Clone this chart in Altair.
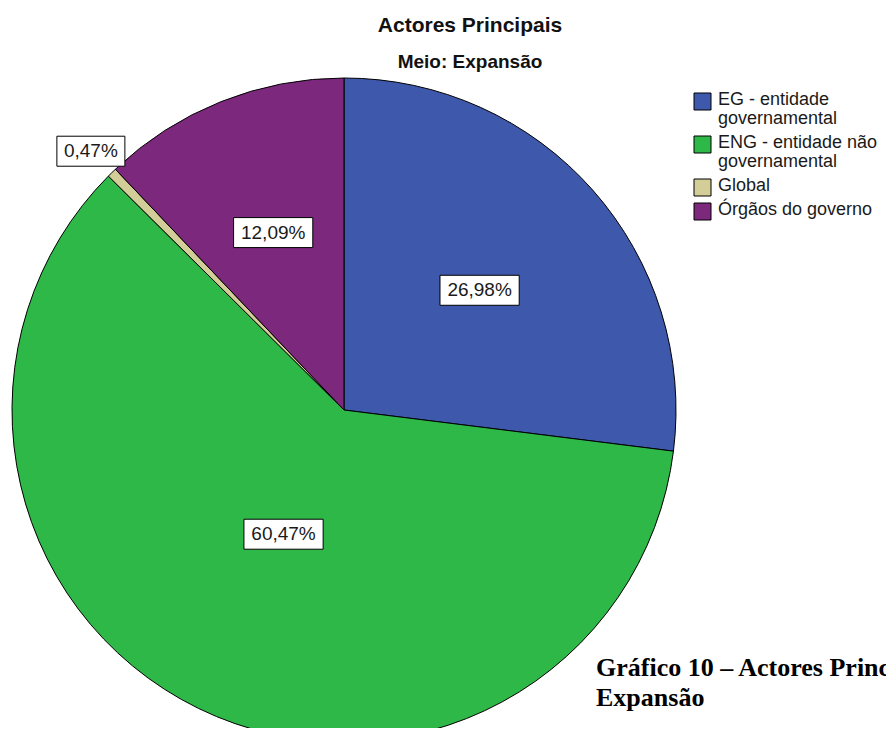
import altair as alt
import pandas as pd

# ---- data ----
categories = ["EG - entidade governamental", "ENG - entidade não governamental",
              "Global", "Órgãos do governo"]
legend_text = ["EG - entidade\ngovernamental", "ENG - entidade não\ngovernamental",
               "Global", "Órgãos do governo"]
percent = [26.98, 60.47, 0.47, 12.09]
colors = ["#3E58AC", "#2EB848", "#D3CE97", "#7C287D"]

title_text = "Actores Principais"
subtitle_text = "Meio: Expansão"
caption_lines = ["Gráfico 10 – Actores Principais – Meio:", "Expansão"]

# ---- layout constants ----
CX, CY, R = 336, 402, 332
W, H = 878, 720
LEG_X, LEG_Y, SW, LH, GAP = 686, 83, 17, 19, 5

df = pd.DataFrame({"cat": categories, "pct": percent, "idx": list(range(len(categories))),
                   "leg": legend_text})
df["nlines"] = [t.count("\n") + 1 for t in legend_text]

base = alt.Chart(df)

pie = base.mark_arc(outerRadius=R, stroke="black", strokeWidth=1).encode(
    theta=alt.Theta("pct:Q", stack=True),
    color=alt.Color("cat:N", scale=alt.Scale(domain=categories, range=colors), legend=None),
    order=alt.Order("idx:Q"),
    x=alt.value(CX), y=alt.value(CY),
)

lab = base.transform_joinaggregate(total="sum(pct)").transform_window(
    cum="sum(pct)", sort=[alt.SortField("idx")], frame=[None, 0]
).transform_calculate(
    mid="2*PI*(datum.cum - datum.pct/2)/datum.total",
    half="PI*datum.pct/datum.total",
).transform_calculate(
    cen=f"2*{R}*sin(datum.half)/(3*datum.half)",
).transform_calculate(
    lr=f"datum.pct < 2 ? {R}+30 : 0.5*datum.cen + 0.25*{R}",
).transform_calculate(
    lx=f"{CX} + datum.lr*sin(datum.mid)",
    ly=f"{CY} - datum.lr*cos(datum.mid)",
    label="replace(format(datum.pct, '.2f'), '.', ',') + '%'",
).transform_calculate(
    hw="length(datum.label)*5.6 + 6",
).transform_calculate(
    x1="datum.lx - datum.hw", x2="datum.lx + datum.hw",
    y1="datum.ly - 15", y2="datum.ly + 15",
)

boxes = lab.mark_rect(fill="white", stroke="black", strokeWidth=1).encode(
    x=alt.X("x1:Q", scale=None, axis=None), x2="x2:Q",
    y=alt.Y("y1:Q", scale=None, axis=None), y2="y2:Q",
)
texts = lab.mark_text(font="Liberation Sans", fontSize=19, color="#1a1a1a",
                      align="center", baseline="middle").encode(
    x=alt.X("lx:Q", scale=None, axis=None),
    y=alt.Y("ly:Q", scale=None, axis=None),
    text="label:N",
)

leg = base.transform_calculate(
    h=f"datum.nlines*{LH} + {GAP}"
).transform_window(
    cumh="sum(h)", sort=[alt.SortField("idx")], frame=[None, 0]
).transform_calculate(
    top=f"{LEG_Y} + datum.cumh - datum.h"
).transform_calculate(
    sx1=f"{LEG_X}", sx2=f"{LEG_X + SW}", sy1="datum.top + 2", sy2=f"datum.top + 2 + {SW}",
    tx=f"{LEG_X + SW + 7}",
)

leg_sw = leg.mark_rect(stroke="black", strokeWidth=1).encode(
    x=alt.X("sx1:Q", scale=None, axis=None), x2="sx2:Q",
    y=alt.Y("sy1:Q", scale=None, axis=None), y2="sy2:Q",
    color=alt.Color("cat:N", scale=alt.Scale(domain=categories, range=colors), legend=None),
)
leg_tx = leg.mark_text(font="Liberation Sans", fontSize=18, color="#1a1a1a", align="left",
                       baseline="top", lineBreak="\n", lineHeight=LH).encode(
    x=alt.X("tx:Q", scale=None, axis=None),
    y=alt.Y("top:Q", scale=None, axis=None),
    text="leg:N",
)

tdf = pd.DataFrame({"t": [title_text], "s": [subtitle_text]})
title = alt.Chart(tdf).mark_text(font="Liberation Sans", fontSize=21, fontWeight="bold",
                                 color="#111", align="center", baseline="middle").encode(
    text="t:N", x=alt.value(462), y=alt.value(18))
subtitle = alt.Chart(tdf).mark_text(font="Liberation Sans", fontSize=19, fontWeight="bold",
                                    color="#111", align="center", baseline="middle").encode(
    text="s:N", x=alt.value(462), y=alt.value(54))

cdf = pd.DataFrame({"c": caption_lines, "i": list(range(len(caption_lines)))})
caption = alt.Chart(cdf).transform_calculate(cy="668 + datum.i*30").mark_text(
    font="Liberation Serif", fontSize=26, fontWeight="bold", color="black",
    align="left", baseline="alphabetic").encode(
    text="c:N", x=alt.value(588), y=alt.Y("cy:Q", scale=None, axis=None))

chart = alt.layer(pie, boxes, texts, leg_sw, leg_tx, title, subtitle, caption).properties(
    width=W, height=H, padding=0, autosize=alt.AutoSizeParams(type="none"),
    background="white",
).configure_view(stroke=None)

chart.save("out.html", embed_options={"renderer": "svg", "actions": False})
